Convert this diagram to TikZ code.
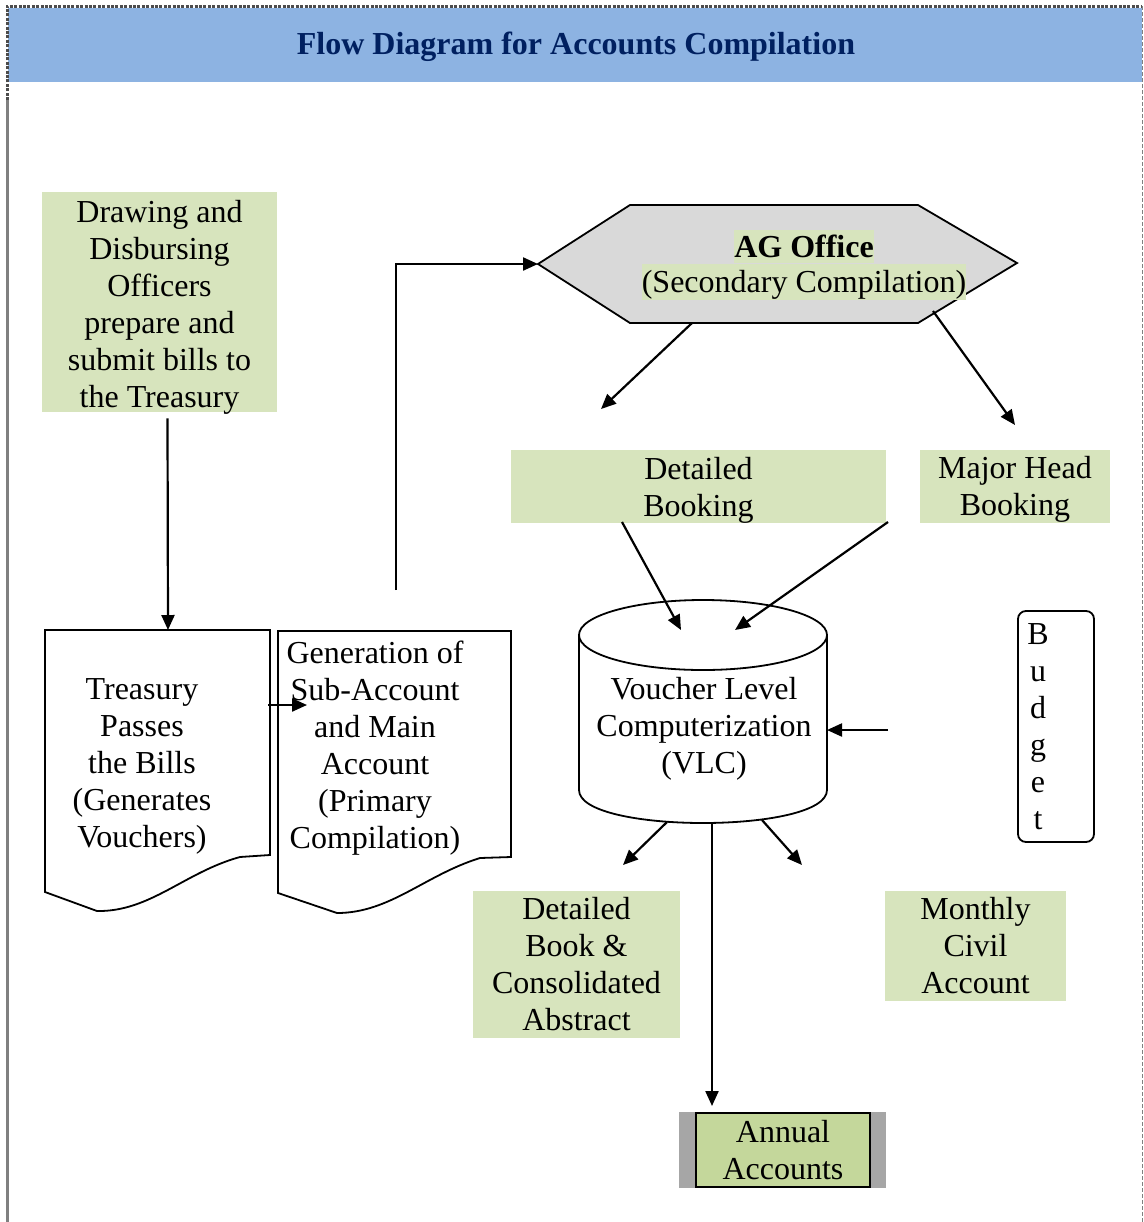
\documentclass[tikz,border=0pt]{standalone}
\usepackage{fontspec}
\setmainfont{Liberation Serif}
\usetikzlibrary{arrows.meta, positioning}

\definecolor{headblue}{RGB}{141,179,226}
\definecolor{titlenavy}{RGB}{0,32,96}
\definecolor{boxgreen}{RGB}{215,228,189}
\definecolor{hexgray}{RGB}{217,217,217}
\definecolor{annualgreen}{RGB}{196,215,155}
\definecolor{sidegray}{RGB}{166,166,166}

\newcommand{\bodyfont}{\fontsize{16}{18.5}\selectfont}

\tikzset{
  arr/.style={-{Triangle[length=7.5pt,width=6.5pt]}, line width=1.1pt},
  greenbox/.style={fill=boxgreen, inner sep=0pt, align=center, font=\bodyfont},
  plaintext/.style={inner sep=0pt, align=center, font=\bodyfont},
  outline/.style={draw, line width=0.9pt},
  marker/.style={fill=boxgreen, inner xsep=0pt, inner ysep=0pt}
}

\begin{document}
\begin{tikzpicture}[x=0.5pt, y=-0.5pt]
    \useasboundingbox (0,0) rectangle (1144,1222);

    % page frame and header band
    \fill[headblue] (8,8) rectangle (1142,82);
    \draw[gray, line width=1.5pt] (7,1222) -- (7,100);
    \draw[gray!60!black, line width=1.5pt, dash pattern=on 1.5pt off 0.7pt] (7,100) -- (7,6) -- (1142,6);
    \draw[gray, line width=0.5pt, dash pattern=on 2pt off 1pt] (1142,6) -- (1142,1222);
    \node[font=\fontsize{16}{18}\selectfont\bfseries, text=titlenavy] (title) at (576,47) {Flow Diagram for Accounts Compilation};

    % drawing and disbursing officers
    \node[greenbox, minimum width=117.5pt, minimum height=110pt] (ddo) at (159.5,302) {};
    \node[plaintext] (ddotext) at ([yshift=-2.5pt]ddo.center)
        {Drawing and\\Disbursing\\Officers\\prepare and\\submit bills to\\the Treasury};

    % treasury document
    \draw[outline] (45,630) -- (270,630) -- (270,855) -- (240,857)
        .. controls (185,872) and (150,912) .. (97,911) -- (45,892) -- cycle;
    \node[plaintext] (treasury) at (142,766) {Treasury\\Passes\\the Bills\\(Generates\\Vouchers)};

    % primary compilation document
    \draw[outline] (278,631) -- (511,631) -- (511,857) -- (480,858)
        .. controls (425,875) and (390,913) .. (337,913) -- (278,893) -- cycle;
    \node[plaintext] (primary) at (375,748) {Generation of\\Sub-Account\\and Main\\Account\\(Primary\\Compilation)};

    % AG office hexagon
    \draw[outline, fill=hexgray] (538,264) coordinate (agwest) -- (630,205) -- (918,205)
        -- (1017,263) -- (918,323) -- (630,323) -- cycle;
    \node[marker, font=\fontsize{16}{18}\selectfont\bfseries, text height=13.5pt, text depth=3pt] (ag) at (804,246.5) {AG Office};
    \node[marker, font=\bodyfont, text height=14.3pt, text depth=3.7pt] (agsub) at (804,282) {(Secondary Compilation)};

    % booking boxes
    \node[greenbox, minimum width=187.5pt, minimum height=36.5pt] (detbook) at (698.5,486.5) {};
    \node[plaintext] (detbooktext) at ([yshift=-2pt]detbook.center) {Detailed\\Booking};
    \node[greenbox, minimum width=95pt, minimum height=36.5pt] (majbook) at (1015,486.5) {};
    \node[plaintext] (majbooktext) at ([yshift=-1.5pt]majbook.center) {Major Head\\Booking};

    % voucher level computerization cylinder
    \draw[outline] (579,635) -- (579,790) .. controls (579,834) and (827,834) .. (827,790) -- (827,635);
    \draw[outline] (703,635) ellipse [x radius=124, y radius=35];
    \node[plaintext] (vlc) at (704,729) {Voucher Level\\Computerization\\(VLC)};

    % budget
    \node[draw, line width=0.9pt, rounded corners=4pt, minimum width=38pt, minimum height=115.5pt] (budget) at (1056,726.5) {};
    \node[plaintext] (budgetword) at (1038,727) {B\\u\\d\\g\\e\\t};

    % outputs
    \node[greenbox, minimum width=103.5pt, minimum height=73.5pt] (abstract) at (576.5,964.5) {Detailed\\Book \&\\Consolidated\\Abstract};
    \node[greenbox, minimum width=90.5pt, minimum height=55pt] (monthly) at (975.5,946) {Monthly\\Civil\\Account};
    \fill[sidegray] (679,1112) rectangle (886,1188);
    \node[plaintext, fill=annualgreen, draw, line width=1.2pt, minimum width=87pt, minimum height=37pt] (annual) at (783,1150) {Annual\\Accounts};

    % connector end points
    \coordinate (treasurytop) at (168,630);
    \coordinate (treasuryout) at (268,705);
    \coordinate (primaryin) at (307,705);
    \coordinate (primaryup) at (396,590);
    \coordinate (agleft) at (692,323);
    \coordinate (agright) at (933,311);
    \coordinate (detin) at (601,409);
    \coordinate (majin) at (1015,425);
    \coordinate (detout) at (622,522);
    \coordinate (majout) at (888,522);
    \coordinate (vlcin1) at (681,630);
    \coordinate (vlcin2) at (735,630);
    \coordinate (budgetout) at (888,730);
    \coordinate (vlcside) at (827,730);
    \coordinate (vlcout1) at (667,822);
    \coordinate (vlcout2) at (762,820);
    \coordinate (vlcout3) at (712,823);
    \coordinate (abstractin) at (623,865);
    \coordinate (monthlyin) at (802,865);
    \coordinate (annualin) at (712,1106);

    % connectors
    \draw[arr] ([xshift=4pt, yshift=-3pt]ddo.south) -- (treasurytop);
    \draw[arr] (treasuryout) -- (primaryin);
    \draw[arr] (primaryup) |- (agwest);
    \draw[arr] (agleft) -- (detin);
    \draw[arr] (agright) -- (majin);
    \draw[arr] (detout) -- (vlcin1);
    \draw[arr] (majout) -- (vlcin2);
    \draw[arr] (budgetout) -- (vlcside);
    \draw[arr] (vlcout1) -- (abstractin);
    \draw[arr] (vlcout2) -- (monthlyin);
    \draw[arr] (vlcout3) -- (annualin);
\end{tikzpicture}
\end{document}
